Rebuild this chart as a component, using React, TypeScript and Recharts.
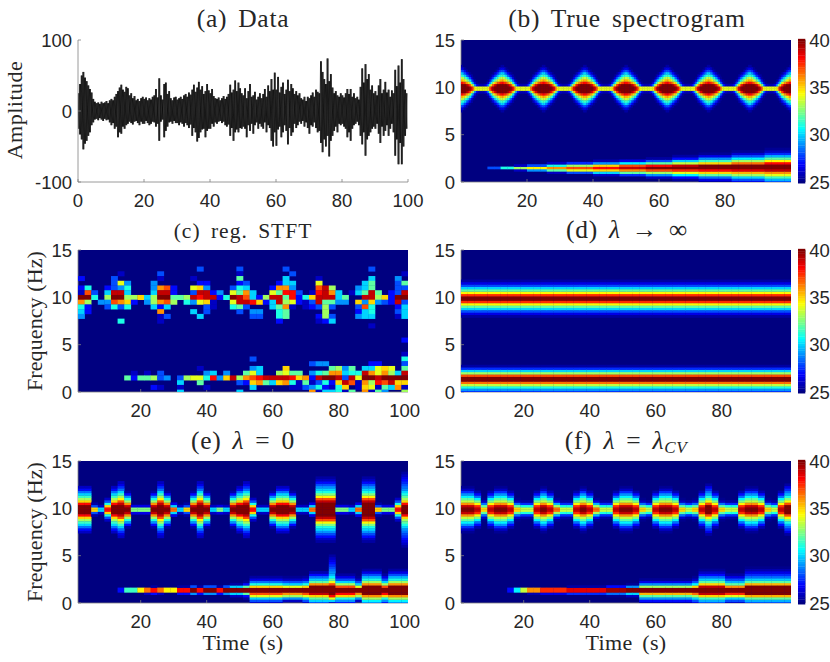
import React from 'react';
import {
  ComposedChart,
  Line,
  LineChart,
  ReferenceArea,
  Scatter,
  XAxis,
  YAxis,
} from 'recharts';

// all spectrogram values are dB above the 25 dB floor of the colour bar

// (a) envelope of the recording, read every 0.5 s
const ampUpper = [
  25, 38, 50, 55, 47, 42, 36, 31, 26, 17, 13, 11, 12, 10, 13, 11, 12, 14, 11, 15,
  17, 15, 20, 24, 28, 33, 37, 30, 27, 34, 32, 22, 25, 18, 21, 15, 17, 14, 18, 20,
  17, 19, 15, 18, 16, 20, 22, 31, 19, 46, 22, 16, 38, 40, 24, 28, 18, 15, 19, 20,
  16, 18, 20, 17, 22, 24, 20, 26, 23, 30, 37, 27, 33, 41, 30, 35, 24, 28, 38, 29,
  25, 31, 21, 18, 17, 19, 15, 18, 21, 17, 20, 24, 37, 26, 30, 43, 28, 40, 32, 25,
  22, 32, 18, 28, 38, 20, 22, 27, 16, 20, 25, 18, 24, 31, 20, 36, 28, 45, 30, 54,
  30, 48, 26, 34, 40, 24, 30, 44, 28, 38, 32, 24, 28, 22, 25, 18, 16, 20, 14, 20,
  18, 22, 26, 20, 30, 27, 25, 70, 55, 45, 38, 74, 42, 52, 33, 25, 28, 22, 20, 25,
  22, 19, 25, 31, 24, 31, 20, 25, 18, 20, 16, 34, 60, 40, 66, 45, 52, 30, 36, 25,
  28, 22, 36, 45, 25, 30, 41, 26, 30, 20, 29, 25, 58, 35, 64, 40, 73, 45, 30, 25,
];
const ampLower = [
  -25, -33, -40, -54, -46, -42, -35, -30, -20, -16, -12, -11, -13, -10, -12, -14, -11, -13, -12, -16,
  -20, -17, -25, -22, -37, -30, -32, -22, -25, -20, -18, -15, -17, -19, -15, -14, -17, -20, -15, -18,
  -18, -14, -17, -20, -18, -15, -16, -22, -18, -42, -15, -12, -37, -28, -22, -16, -15, -18, -14, -17,
  -17, -20, -16, -18, -22, -17, -20, -24, -19, -35, -24, -30, -43, -38, -30, -26, -25, -37, -28, -25,
  -25, -18, -22, -16, -18, -15, -14, -17, -15, -20, -22, -19, -35, -24, -42, -30, -26, -30, -24, -25,
  -22, -25, -37, -20, -28, -18, -32, -20, -16, -25, -18, -22, -25, -16, -30, -20, -24, -42, -50, -30,
  -49, -26, -22, -37, -30, -20, -28, -47, -24, -35, -30, -18, -24, -20, -15, -18, -14, -22, -16, -24,
  -32, -20, -22, -16, -24, -30, -28, -45, -58, -40, -50, -35, -64, -42, -35, -28, -22, -30, -18, -20,
  -18, -22, -25, -37, -30, -42, -25, -20, -18, -15, -20, -35, -47, -30, -63, -40, -35, -30, -25, -22,
  -25, -18, -32, -45, -22, -35, -28, -20, -35, -25, -18, -30, -63, -40, -75, -45, -75, -50, -35, -25,
];

// (b) half profiles of the 10 Hz ridge, centre outwards in 0.25 Hz steps, one per 0.5 s away from a peak
const trueRidge = [
  [15, 15, 13, 10.5, 8.5, 6.5, 5, 3, 1.5, 0.5],
  [15, 15, 12.5, 10, 8, 6, 4, 2.5, 1],
  [15, 15, 12, 9, 7, 5, 3, 1.5, 0.3],
  [15, 14.5, 11, 8, 6, 3.5, 2, 0.5],
  [15, 13.5, 10, 7, 4.5, 2.5, 1],
  [14.5, 12, 8.5, 5.5, 3, 1.5, 0.3],
  [13.5, 10, 6, 3.5, 1.5, 0.5],
  [11.5, 7.5, 3.5, 1.5, 0.3],
  [9.5, 4, 1.5, 0.3],
  [9, 2, 0.3],
  [9, 1],
  [9, 0.7],
  [9, 0.7],
];
const trueBeat = [0, 1, 2, 3, 4, 5, 6, 7, 8, 9, 10, 11, 12, 11, 10, 9, 8, 7, 6, 5, 4, 3, 2, 1, 0];

// (b) chirp band, from 0 Hz upwards in 0.25 Hz steps
const trueChirp = [
  [],
  [0, 0, 0, 0, 0, 0, 3],
  [0, 0, 0, 0, 0, 0, 6],
  [0, 0, 0, 0, 0, 1, 8, 1],
  [0, 0, 0, 0, 0, 4, 9.5, 3],
  [0, 0, 0, 0, 1, 7, 11, 6, 1],
  [0, 0, 0, 0, 3, 9, 12, 8, 2.5],
  [0, 0, 0, 1, 5, 10, 13, 10, 4, 0.7],
  [0, 0, 0, 2.5, 7, 11, 14, 12, 5.5, 1.5],
  [0, 0, 1, 4, 8, 12, 15, 13, 7, 3, 0.5],
  [0, 0.5, 2, 5.5, 9, 12.5, 15, 14, 8.5, 5, 2, 0.5],
  [0.5, 1.5, 3.5, 7, 10, 13, 15, 15, 10, 6.5, 4, 1.5, 0.3],
  [1.5, 3, 5, 8, 10.5, 13.5, 15, 15, 11.5, 8, 5.5, 3, 1.2, 0.3],
  [3, 4.5, 6.5, 9, 11, 14, 15, 15, 13, 9.5, 7, 4.5, 2.5, 1, 0.3],
];
const trueChirpByCol = [
  0, 0, 0, 0, 1, 1, 2, 2, 3, 3, 4, 4, 4, 5, 5, 5, 6, 6, 6, 6, 7, 7, 7, 7, 8,
  8, 8, 8, 9, 9, 9, 9, 10, 10, 10, 10, 11, 11, 11, 11, 11, 12, 12, 12, 12, 12, 13, 13, 13, 13,
];

// (c) regularised STFT, one list per 0.5 Hz row, 50 columns of 2 s
const stftFreqs = [13, 12.5, 12, 11.5, 11, 10.5, 10, 9.5, 9, 8.5, 8, 7.5, 7, 5.5, 4, 3.5, 3, 2.5, 2, 1.5, 1, 0.5, 0];
const stft130 = [0,0,0,0,0,0,0,0,0,0, 0,0,0,0,0,0,0,0,3,0, 0,0,0,0,3,0,0,0,0,0, 0,3,0,0,0,0,0,0,0,0, 0,0,0,0,3,0,0,0,0,0];
const stft125 = [0,0,0,0,0,0,1,0,0,0, 0,0,3,0,0,0,0,0,0,0, 0,0,0,0,1,0,0,0,0,0, 0,0,3,0,0,0,0,0,0,0, 0,0,0,0,0,0,0,0,0,1];
const stft120 = [2,0,0,0,0,3,0,0,0,0, 0,0,1,0,0,0,0,1,0,0, 0,0,0,0,7,0,0,0,0,0, 0,5,0,0,0,0,1,0,0,0, 0,0,0,0,5,0,0,0,4,0];
const stft115 = [0,0,0,0,0,3,9,4,0,0, 0,4,0,0,0,0,0,0,2,2, 0,0,0,0,2,3,0,0,0,0, 2,5,5,0,0,0,9,0,0,0, 0,0,0,5,7,0,0,0,3,7];
const stft110 = [2,6,0,0,2,3,4,6,0,0, 0,4,11,12,2,0,0,9,10,4, 0,0,0,3,6,5,0,0,0,2, 11,11,4,0,0,0,12,14,8,0, 0,0,4,5,7,0,0,0,3,3];
const stft105 = [1,12,3,0,5,14,14,5,0,0, 0,5,14,14,2,0,0,3,14,14, 2,4,0,9,7,11,5,0,0,9, 7,13,13,3,0,1,13,14,11,5, 0,1,5,7,14,7,0,2,3,14];
const stft100 = [15,15,6,0,8,15,15,8,8,10, 5,8,15,15,7,7,8,14,13,14, 14,2,6,15,14,12,5,2,8,14, 14,7,13,2,6,10,14,14,14,5, 7,0,0,14,14,8,10,2,15,15];
const stft095 = [11,8,0,4,4,12,11,10,2,0, 4,8,11,12,8,0,6,4,9,10, 1,0,0,9,14,14,13,10,2,5, 14,8,9,2,1,3,14,7,7,4, 4,0,10,4,10,4,3,2,14,3];
const stft090 = [6,2,0,0,3,6,3,6,0,0, 0,5,2,5,0,0,0,0,0,3, 1,0,0,6,7,3,0,0,0,5, 7,11,1,0,1,2,3,8,3,0, 0,0,3,12,6,0,0,0,2,5];
const stft085 = [5,2,0,0,0,0,0,0,0,0, 0,0,11,0,0,0,0,5,0,3, 0,0,0,0,3,0,4,4,0,0, 6,7,0,0,0,0,0,8,0,0, 0,0,2,5,6,0,0,0,3,5];
const stft080 = [4,0,0,0,0,0,0,0,0,0, 0,0,1,3,0,0,0,0,5,0, 0,0,0,0,0,0,3,3,0,0, 6,7,0,0,0,0,2,8,3,0, 0,0,4,5,5,0,0,0,1,5];
const stft075 = [0,0,0,0,0,0,6,0,0,0, 0,0,1,0,0,0,0,0,0,0, 0,0,0,0,0,0,0,0,0,0, 2,0,0,0,0,0,1,2,5,0, 0,0,0,0,0,0,0,0,0,0];
const stft070 = [0,0,0,0,0,0,0,0,0,0, 0,0,0,0,0,0,0,0,0,0, 0,0,0,0,0,0,0,0,0,0, 0,0,0,0,0,0,0,0,0,0, 0,0,0,0,1,0,0,0,0,0];
const stft055 = [0,0,0,0,0,0,0,0,0,0, 0,0,0,0,0,0,0,0,0,0, 0,0,0,0,0,0,0,0,0,0, 0,0,0,0,0,0,0,0,0,0, 0,0,0,0,0,0,0,0,0,2];
const stft040 = [0,0,0,0,0,0,0,0,0,0, 0,0,0,0,0,0,0,0,0,0, 0,0,0,0,0,0,0,0,0,0, 0,0,0,0,0,0,0,0,0,0, 0,0,0,0,0,0,0,0,0,1];
const stft035 = [0,0,0,0,0,0,0,0,0,0, 0,0,0,0,0,0,0,0,0,0, 0,0,0,0,0,0,3,0,0,0, 0,0,0,0,0,0,0,0,0,0, 0,0,0,0,0,0,0,0,0,6];
const stft030 = [0,0,0,0,0,0,0,0,0,0, 0,0,0,0,0,0,0,0,0,0, 0,0,0,0,0,0,0,0,0,0, 0,0,0,0,0,3,4,4,0,0, 0,0,0,0,2,2,0,0,0,3];
const stft025 = [0,0,0,0,0,0,0,0,0,0, 0,0,0,0,0,0,0,0,1,0, 0,0,0,0,0,0,4,5,0,0, 0,10,0,0,0,0,0,0,7,8, 4,7,0,5,5,9,10,9,0,7];
const stft020 = [0,0,0,0,0,0,0,0,1,0, 1,0,3,0,0,0,0,0,0,4, 5,0,4,0,0,7,9,5,0,0, 8,9,7,7,0,4,6,7,11,11, 5,6,6,14,11,9,11,8,5,14];
const stft015 = [0,0,0,0,0,0,0,7,2,7, 7,8,3,4,0,3,8,9,9,6, 13,4,10,14,8,11,12,13,14,14, 14,14,13,10,11,2,14,15,15,14, 3,14,9,15,15,14,15,15,15,15];
const stft010 = [0,0,0,0,0,0,0,0,0,0, 0,0,0,0,0,5,0,0,7,0, 0,0,0,0,3,2,10,11,7,5, 10,11,6,1,7,1,3,6,2,10, 14,12,1,11,8,13,12,14,10,10];
const stft005 = [0,0,0,0,0,0,0,0,0,0, 0,2,1,0,0,1,0,0,0,1, 0,0,0,0,0,0,5,0,0,0, 0,0,1,1,3,4,6,2,1,6, 10,0,1,10,9,1,7,5,11,1];
const stft000 = [0,0,0,0,0,0,0,0,0,0, 0,0,0,0,0,5,0,0,0,0, 0,0,0,0,5,0,0,0,0,0, 0,0,0,0,0,11,1,5,5,6, 1,7,0,11,1,7,4,0,0,8];
const stftRows = [
  stft130, stft125, stft120, stft115, stft110, stft105, stft100, stft095, stft090, stft085, stft080, stft075,
  stft070, stft055, stft040, stft035, stft030, stft025, stft020, stft015, stft010, stft005, stft000,
];

// (d) constant in time
const flatRidge = [15, 12.5, 9.5, 7, 5, 3, 1.5, 0.5];
const flatChirp = [2.5, 4, 6, 8.5, 11.5, 15, 15, 12, 8, 5, 2.5, 0.5];

// (e) half profiles of the 10 Hz ridge and which one each 2 s column uses
const zeroRidge = [
  [5, 1],
  [7.5, 1.5],
  [10, 3, 0.5],
  [11.5, 5, 1.5],
  [13, 10, 6, 3, 1],
  [15, 14, 11, 8, 6, 4, 2, 0.5],
  [15, 15, 13, 10, 8, 6.5, 5, 3.5, 2, 1],
  [15, 15, 14, 12, 9.5, 8, 6.5, 5, 3.5, 2.5, 1.5, 1],
  [15, 15, 15, 14, 12, 9.5, 7.5, 6, 5, 4, 3, 2, 1, 0.5],
  [15, 15, 13, 10, 8, 7, 6, 5, 4, 3.5, 3, 2.5, 2, 1.5, 1, 0.5],
];
const zeroRidgeByCol = [
  6, 6, 2, 0, 4, 6, 7, 5, 1, 1, 1, 5, 7, 5, 3, 0, 2, 5, 7, 5, 0, 1, 0, 5, 6,
  7, 4, 0, 0, 5, 6, 6, 5, 0, 0, 3, 8, 8, 8, 1, 1, 0, 3, 8, 8, 2, 1, 1, 4, 9,
];
const zeroChirp = [
  [],
  [0, 0, 0, 0, 0, 2, 2],
  [0, 0, 0, 0, 0, 6.5, 6.5],
  [0, 0, 0, 0, 0, 9.5, 9.5],
  [0, 0, 0, 0, 1, 11.5, 11.5],
  [0, 0, 0, 0, 2, 13, 13, 0.5],
  [0, 0, 0, 0, 4, 15, 15, 3],
  [0, 0, 0, 1, 5, 15, 15, 5, 0.5],
  [0, 0, 0.5, 2, 7, 15, 15, 7, 2, 0.3],
  [1, 3, 5, 9, 12, 15, 15, 10, 6, 3.5, 1.5, 0.5],
  [0, 1, 4, 8, 11, 15, 15, 9, 5, 3, 1, 0.3],
  [3, 5, 7, 10, 14, 15, 15, 15, 11, 7, 5, 3.5, 2, 0.7],
  [1, 5, 9, 13, 15, 15, 15, 15, 12, 9, 7, 5.5, 4.5, 4, 3.5, 3, 2.5, 2, 1.5, 1, 0.5],
  [2, 4, 6, 10, 13, 15, 15, 12, 8, 5, 3, 1.5, 0.5],
  [4, 5.5, 8, 11, 15, 15, 15, 15, 11, 8, 6, 4.5, 3, 1.5, 0.5],
];
const zeroChirpByCol = [
  0, 0, 0, 0, 0, 0, 1, 2, 2, 3, 4, 5, 4, 3, 3, 5, 5, 6, 5, 6, 6, 5, 6, 7, 7,
  8, 9, 9, 9, 9, 9, 10, 10, 10, 9, 11, 11, 11, 12, 13, 13, 13, 10, 14, 14, 14, 13, 14, 14, 14,
];

// (f) same layout as (e)
const cvRidge = [
  [8.5, 6, 2.5, 0.5],
  [10, 7, 3.5, 1, 0.2],
  [11.5, 8, 4.5, 1.5, 0.3],
  [13, 10.5, 8, 5, 3, 1.5, 0.3],
  [14, 12.5, 9.5, 7.5, 5.5, 3.5, 2, 0.7],
  [15, 14, 11, 8.5, 7, 5.5, 4, 2.5, 1, 0.3],
  [15, 15, 12, 9.5, 7.5, 6, 4.5, 3.5, 2.5, 1.5, 0.5],
];
const cvRidgeByCol = [
  5, 5, 4, 1, 4, 5, 5, 4, 1, 0, 0, 4, 5, 4, 2, 0, 0, 4, 5, 4, 2, 0, 0, 4, 5,
  5, 4, 1, 0, 4, 5, 5, 4, 1, 0, 1, 4, 6, 4, 1, 0, 0, 4, 5, 5, 4, 1, 0, 4, 6,
];
const cvChirp = [
  [],
  [0, 0, 0, 0, 0, 2, 2],
  [0, 0, 0, 0, 0, 5.5, 5.5],
  [0, 0, 0, 0, 0, 8.5, 8.5],
  [0, 0, 0, 0, 0.7, 11, 11],
  [0, 0, 0, 0, 1.5, 12.5, 12.5],
  [0, 0, 0, 0, 2.5, 13.5, 13.5, 0.5],
  [0, 0, 0, 0.3, 3.5, 14.5, 14.5, 2],
  [0, 0, 0, 1, 5, 15, 15, 4, 0.3],
  [0.7, 2, 4, 7, 10.5, 15, 15, 8, 4, 1.5, 0.3],
  [1.5, 3, 5, 8, 11.5, 15, 15, 10, 5.5, 3, 1, 0.3],
  [3, 4.5, 6.5, 10, 14, 15, 15, 14, 10, 7, 5, 3.5, 2, 1, 0.3],
  [1, 3, 5, 9, 12.5, 15, 15, 11, 7, 4.5, 3, 1.5, 0.5],
  [3, 4.5, 7, 10.5, 15, 15, 15, 15, 10.5, 7, 5, 3.5, 2.5, 1.5, 0.7, 0.2],
];
const cvChirpByCol = [
  0, 0, 0, 0, 0, 0, 0, 1, 2, 3, 4, 4, 5, 5, 5, 5, 6, 6, 6, 6, 6, 6, 7, 7, 7,
  8, 8, 9, 9, 9, 9, 9, 9, 9, 9, 10, 11, 11, 11, 11, 12, 12, 12, 13, 13, 13, 13, 13, 13, 13,
];

const timeTicks = [20, 40, 60, 80];
const timeTicksAll = [20, 40, 60, 80, 100];
const freqTicks = [0, 5, 10, 15];
const ampTicks = [-100, 0, 100];
const barTicks = [25, 30, 35, 40];

const SANS = '"Liberation Sans", Arial, sans-serif';
const SERIF = '"Liberation Serif", "Times New Roman", serif';
const INK = '#262626';
const EDGE = '#808080';
const TICK_FONT = { fontSize: 18.5, fontFamily: SANS, fill: INK };

type Cell = { t: number; f: number; v: number };
type Layer = { cells: Cell[]; dt: number; df: number };

const jetPart = (x: number) => Math.max(0, Math.min(1, 1.5 - Math.abs(x)));
const jet = (v: number) => {
  const s = Math.max(0, Math.min(1, v / 15));
  const r = Math.round(255 * jetPart(4 * s - 3));
  const g = Math.round(255 * jetPart(4 * s - 2));
  const b = Math.round(255 * jetPart(4 * s - 1));
  return `rgb(${r},${g},${b})`;
};

const evenTimes = stft100.map((_, i) => 2 * (i + 1));
const oddTimes = stft100.map((_, i) => 2 * i + 1);

// mirrors each half profile around the ridge centre (9.875 Hz)
const ridgeCells = (times: number[], profiles: number[][], byCol: number[]) => {
  const cells: Cell[] = [];
  times.forEach((t, i) => {
    profiles[byCol[i]].forEach((v, j) => {
      cells.push({ t, f: 10 + 0.25 * j, v }, { t, f: 9.75 - 0.25 * j, v });
    });
  });
  return cells;
};

const chirpCells = (times: number[], profiles: number[][], byCol: number[]) => {
  const cells: Cell[] = [];
  times.forEach((t, i) => {
    profiles[byCol[i]].forEach((v, j) => {
      if (v > 0) cells.push({ t, f: 0.25 * j, v });
    });
  });
  return cells;
};

const beatTimes = Array.from({ length: 200 }, (_, i) => 0.25 + 0.5 * i);
const beatByCol = beatTimes.map((_, i) => trueBeat[i % trueBeat.length]);

const stftCells: Cell[] = stftRows.flatMap((row, r) =>
  row.flatMap((v, i) => (v > 0 ? [{ t: evenTimes[i], f: stftFreqs[r], v }] : [])),
);

const flatByCol = evenTimes.map(() => 0);

// two opposite zigzags between the envelopes so the core comes out solid black
const amplitude = ampUpper.flatMap((up, i) => [
  { t: 0.5 * i, a: up, b: ampLower[i] },
  { t: 0.5 * i + 0.25, a: ampLower[i], b: up },
]);

const barLevels = Array.from({ length: 61 }, (_, i) => 25 + 0.25 * i);
const barCells = barLevels.map((level) => ({ x: 0.5, level }));

const PLOT_W = 330;
const PLOT_H = 142;
const PAD_L = 60;
const PAD_T = 14;
const PAD_R = 22;
const PAD_B = 36;
const CHART_W = PLOT_W + PAD_L + PAD_R;
const CHART_H = PLOT_H + PAD_T + PAD_B;

function frameAxes(xDomain: number[], xTicks: number[], yDomain: number[], yTicks: number[]) {
  const common = { axisLine: { stroke: EDGE, strokeWidth: 0.8 }, tickLine: { stroke: EDGE, strokeWidth: 0.8 } };
  return [
    <XAxis
      key="x"
      type="number"
      dataKey="t"
      domain={xDomain}
      ticks={xTicks}
      interval={0}
      allowDataOverflow
      height={PAD_B}
      tickSize={-3}
      tickMargin={15}
      tick={TICK_FONT}
      {...common}
    />,
    <XAxis
      key="xt"
      xAxisId="top"
      orientation="top"
      type="number"
      domain={xDomain}
      ticks={xTicks}
      interval={0}
      height={0}
      tickSize={-3}
      tickFormatter={() => ''}
      {...common}
    />,
    <YAxis
      key="y"
      type="number"
      domain={yDomain}
      ticks={yTicks}
      interval={0}
      allowDataOverflow
      width={PAD_L}
      tickSize={-3}
      tickMargin={9}
      tick={TICK_FONT}
      {...common}
    />,
    <YAxis
      key="yr"
      yAxisId="right"
      orientation="right"
      type="number"
      domain={yDomain}
      ticks={yTicks}
      interval={0}
      width={0}
      tickSize={-3}
      tickFormatter={() => ''}
      {...common}
    />,
  ];
}

function HeatPanel({
  left,
  top,
  xDomain,
  xTicks,
  layers,
}: {
  left: number;
  top: number;
  xDomain: number[];
  xTicks: number[];
  layers: Layer[];
}) {
  const pxPerT = PLOT_W / (xDomain[1] - xDomain[0]);
  const pxPerF = PLOT_H / 15;
  const bottom = PAD_T + PLOT_H;
  return (
    <div style={{ position: 'absolute', left: left - PAD_L, top: top - PAD_T }}>
      <ComposedChart
        width={CHART_W}
        height={CHART_H}
        margin={{ top: PAD_T, right: PAD_R, bottom: 0, left: 0 }}
      >
        <ReferenceArea x1={xDomain[0]} x2={xDomain[1]} y1={0} y2={15} fill={jet(0)} fillOpacity={1} stroke="none" />
        {layers.map((layer, n) => {
          const w = layer.dt * pxPerT;
          const h = layer.df * pxPerF;
          return (
            <Scatter
              key={n}
              data={layer.cells}
              dataKey="f"
              isAnimationActive={false}
              shape={(p: any) => {
                const y0 = p.cy - h / 2;
                const y1 = Math.min(bottom, p.cy + h / 2 + 0.3);
                return (
                  <rect x={p.cx - w / 2} y={y0} width={w + 0.3} height={y1 - y0} fill={jet(p.payload.v)} />
                );
              }}
            />
          );
        })}
        {frameAxes(xDomain, xTicks, [0, 15], freqTicks)}
      </ComposedChart>
    </div>
  );
}

function ColorBar({ top }: { top: number }) {
  const h = (0.25 * PLOT_H) / 15;
  return (
    <div style={{ position: 'absolute', left: 797.7, top: top - PAD_T }}>
      <ComposedChart
        width={32.3}
        height={PLOT_H + 2 * PAD_T}
        margin={{ top: PAD_T, right: 0, bottom: PAD_T, left: 0 }}
      >
        <XAxis type="number" dataKey="x" domain={[0, 1]} hide />
        <YAxis
          type="number"
          dataKey="level"
          orientation="right"
          domain={[25, 40]}
          ticks={barTicks}
          interval={0}
          width={25}
          tickLine={false}
          tickSize={0}
          axisLine={{ stroke: EDGE, strokeWidth: 0.8 }}
          tickMargin={4}
          tick={TICK_FONT}
        />
        <Scatter
          data={barCells}
          dataKey="level"
          isAnimationActive={false}
          shape={(p: any) => (
            <rect x={p.cx - 3.65} y={p.cy - h / 2} width={7.3} height={h + 0.3} fill={jet(p.payload.level - 25)} />
          )}
        />
      </ComposedChart>
    </div>
  );
}

function Title({
  cx,
  base,
  size = 25.5,
  gap = 0.7,
  children,
}: {
  cx: number;
  base: number;
  size?: number;
  gap?: number;
  children: React.ReactNode;
}) {
  return (
    <div
      style={{
        position: 'absolute',
        left: cx - 200,
        width: 400,
        top: base - 0.8375 * size,
        textAlign: 'center',
        fontFamily: SERIF,
        fontSize: size,
        lineHeight: 1,
        letterSpacing: gap,
        wordSpacing: 4,
        color: INK,
        whiteSpace: 'nowrap',
      }}
    >
      {children}
    </div>
  );
}

function SideLabel({ cx, cy, gap, text }: { cx: number; cy: number; gap: number; text: string }) {
  return (
    <div
      style={{
        position: 'absolute',
        left: cx - 100,
        top: cy - 12,
        width: 200,
        height: 24,
        lineHeight: '24px',
        textAlign: 'center',
        transform: 'rotate(-90deg)',
        fontFamily: SERIF,
        fontSize: 22,
        letterSpacing: gap,
        color: INK,
        whiteSpace: 'nowrap',
      }}
    >
      {text}
    </div>
  );
}

const ROW_TOPS = [39.5, 250, 460.5];
const COL_LEFTS = [78, 461];

export default function App() {
  return (
    <div style={{ position: 'absolute', left: 0, top: 0, width: 830, height: 662, background: '#fff', overflow: 'hidden' }}>
      <div style={{ position: 'absolute', left: COL_LEFTS[0] - PAD_L, top: ROW_TOPS[0] - PAD_T }}>
        <LineChart
          width={CHART_W}
          height={CHART_H}
          data={amplitude}
          margin={{ top: PAD_T, right: PAD_R, bottom: 0, left: 0 }}
        >
          {frameAxes([0, 100], [0, ...timeTicksAll], [-100, 100], ampTicks)}
          <Line dataKey="a" stroke="#000" strokeWidth={0.65} dot={false} isAnimationActive={false} />
          <Line dataKey="b" stroke="#000" strokeWidth={0.65} dot={false} isAnimationActive={false} />
        </LineChart>
      </div>

      <HeatPanel
        left={COL_LEFTS[1]}
        top={ROW_TOPS[0]}
        xDomain={[0, 100]}
        xTicks={timeTicks}
        layers={[
          { cells: ridgeCells(beatTimes, trueRidge, beatByCol), dt: 0.5, df: 0.25 },
          { cells: chirpCells(oddTimes, trueChirp, trueChirpByCol), dt: 2, df: 0.25 },
        ]}
      />
      <HeatPanel
        left={COL_LEFTS[0]}
        top={ROW_TOPS[1]}
        xDomain={[1, 101]}
        xTicks={timeTicksAll}
        layers={[{ cells: stftCells, dt: 2, df: 0.5 }]}
      />
      <HeatPanel
        left={COL_LEFTS[1]}
        top={ROW_TOPS[1]}
        xDomain={[1, 101]}
        xTicks={timeTicks}
        layers={[
          { cells: ridgeCells(evenTimes, [flatRidge], flatByCol), dt: 2, df: 0.25 },
          { cells: chirpCells(evenTimes, [flatChirp], flatByCol), dt: 2, df: 0.25 },
        ]}
      />
      <HeatPanel
        left={COL_LEFTS[0]}
        top={ROW_TOPS[2]}
        xDomain={[1, 101]}
        xTicks={timeTicksAll}
        layers={[
          { cells: ridgeCells(evenTimes, zeroRidge, zeroRidgeByCol), dt: 2, df: 0.25 },
          { cells: chirpCells(evenTimes, zeroChirp, zeroChirpByCol), dt: 2, df: 0.25 },
        ]}
      />
      <HeatPanel
        left={COL_LEFTS[1]}
        top={ROW_TOPS[2]}
        xDomain={[1, 101]}
        xTicks={timeTicks}
        layers={[
          { cells: ridgeCells(evenTimes, cvRidge, cvRidgeByCol), dt: 2, df: 0.25 },
          { cells: chirpCells(evenTimes, cvChirp, cvChirpByCol), dt: 2, df: 0.25 },
        ]}
      />

      {ROW_TOPS.map((top) => (
        <ColorBar key={top} top={top} />
      ))}

      <Title cx={243} base={27}>(a) Data</Title>
      <Title cx={627} base={27}>(b) True spectrogram</Title>
      <Title cx={243} base={239} size={21.5} gap={1}>(c) reg. STFT</Title>
      <Title cx={627} base={238}>(d) <i>λ</i> → ∞</Title>
      <Title cx={243} base={449}>(e) <i>λ</i> = 0</Title>
      <Title cx={626} base={449}>
        (f) <i>λ</i> = <i>λ</i>
        <i style={{ fontSize: 17, position: 'relative', top: 4 }}>CV</i>
      </Title>

      <SideLabel cx={15} cy={110} gap={0.5} text="Amplitude" />
      <SideLabel cx={35} cy={321} gap={0.1} text="Frequency (Hz)" />
      <SideLabel cx={35} cy={532} gap={0.1} text="Frequency (Hz)" />
      <Title cx={243} base={650} size={22} gap={0.3}>Time (s)</Title>
      <Title cx={626} base={650} size={22} gap={0.3}>Time (s)</Title>
    </div>
  );
}
